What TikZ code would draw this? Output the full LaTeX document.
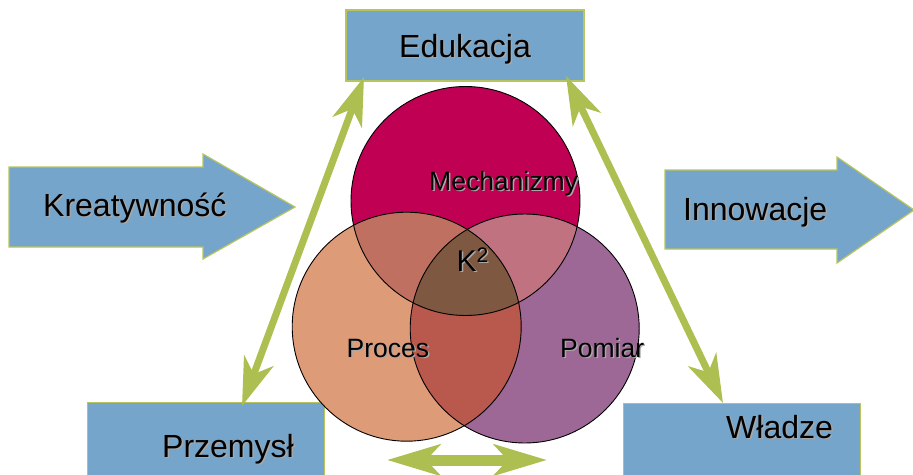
\documentclass[tikz,border=0pt]{standalone}
\usepackage{fontspec}
\setmainfont{Liberation Sans}
\usetikzlibrary{arrows.meta}

\definecolor{boxblue}{HTML}{75A5CB}
\definecolor{boxedge}{HTML}{B8C45E}
\definecolor{linkgreen}{HTML}{ADBF50}
\definecolor{shadowgray}{HTML}{A8A8A8}
\definecolor{cmech}{HTML}{C00052}
\definecolor{cproc}{HTML}{DE9B78}
\definecolor{cpom}{HTML}{9E6896}
\definecolor{cmp}{HTML}{C07060}
\definecolor{cmq}{HTML}{C17280}
\definecolor{cpq}{HTML}{B9584C}
\definecolor{ccore}{HTML}{7F5842}

% text with a soft grey drop shadow
\newcommand\shtxt[1]{\makebox[0pt][l]{\hspace{1.4pt}\raisebox{-1.4pt}{\textcolor{shadowgray}{#1}}}#1}

\tikzset{
  bigtext/.style={inner sep=0pt, font=\fontsize{32}{36}\selectfont},
  smalltext/.style={inner sep=0pt, font=\fontsize{26.5}{30}\selectfont},
  coretext/.style={inner sep=0pt, font=\fontsize{30}{34}\selectfont},
  bluebox/.style={draw=boxedge, fill=boxblue, line width=1.2pt, inner sep=0pt},
  bluearrow/.style={draw=boxedge, fill=boxblue, line width=1.2pt, line join=miter},
  venn/.style={draw=black, line width=0.9pt},
  link/.style={draw=linkgreen, line width=7pt,
    {Stealth[length=48pt,width=31pt,inset=14pt]}-{Stealth[length=48pt,width=31pt,inset=14pt]}},
  linkwide/.style={draw=linkgreen, line width=11pt,
    {Stealth[length=53pt,width=31pt,inset=14pt]}-{Stealth[length=53pt,width=31pt,inset=14pt]}}
}

\begin{document}
\begin{tikzpicture}[x=1pt,y=-1pt]
\useasboundingbox (0,0) rectangle (913,474);
\clip (0,0) rectangle (913,474);

% side arrows
\path[bluearrow] (9,167) -- (203,167) -- (203,154) -- (295,207) -- (203,259) -- (203,247) -- (9,247) -- cycle;
\node[bigtext, anchor=base west] (kreat) at (43,216) {\shtxt{Kreatywność}};
\path[bluearrow] (665,170) -- (837,170) -- (837,157) -- (914,210) -- (837,263) -- (837,249) -- (665,249) -- cycle;
\node[bigtext, anchor=base west] (innow) at (683,220) {\shtxt{Innowacje}};

% boxes
\node[bluebox, minimum width=238pt, minimum height=71pt] (edu) at (465,45.5) {};
\node[bigtext, anchor=base] (edut) at (465,57) {\shtxt{Edukacja}};
\node[bluebox, minimum width=237pt, minimum height=80pt, anchor=north west] (prz) at (87,402) {};
\node[bigtext, anchor=base west] (przt) at (162,457) {\shtxt{Przemysł}};
\node[bluebox, minimum width=237pt, minimum height=80pt, anchor=north west] (wla) at (623,403) {};
\node[bigtext, anchor=base west] (wlat) at (726,438) {\shtxt{Władze}};

% links between the boxes
\coordinate (lt) at (364,77);
\coordinate (lb) at (242,406);
\coordinate (rt) at (566,76);
\coordinate (rb) at (723,403);
\coordinate (bl) at (387,460);
\coordinate (br) at (547,460);
\draw[link] (lt) -- (lb);
\draw[link] (rt) -- (rb);
\draw[linkwide] (bl) -- (br);

% three overlapping circles
\coordinate (cm) at (465.5,201);
\coordinate (cp) at (406.7,326.7);
\coordinate (cq) at (524.7,328.5);
\def\R{114.5}
\fill[cmech] (cm) circle (\R);
\fill[cproc] (cp) circle (\R);
\fill[cpom] (cq) circle (\R);
\begin{scope}
  \clip (cm) circle (\R);
  \fill[cmp] (cp) circle (\R);
  \fill[cmq] (cq) circle (\R);
\end{scope}
\begin{scope}
  \clip (cp) circle (\R);
  \fill[cpq] (cq) circle (\R);
  \clip (cq) circle (\R);
  \fill[ccore] (cm) circle (\R);
\end{scope}
\draw[venn] (cm) circle (\R);
\draw[venn] (cp) circle (\R);
\draw[venn] (cq) circle (\R);

\node[smalltext, anchor=base west] (mech) at (429,190) {\shtxt{Mechanizmy}};
\node[coretext, anchor=base west] (k2) at (456.5,271.5) {\shtxt{K\textsuperscript{2}}};
\node[smalltext, anchor=base west] (proc) at (346.5,357) {\shtxt{Proces}};
\node[smalltext, anchor=base west] (pom) at (560,357) {\shtxt{Pomiar}};
\end{tikzpicture}
\end{document}
